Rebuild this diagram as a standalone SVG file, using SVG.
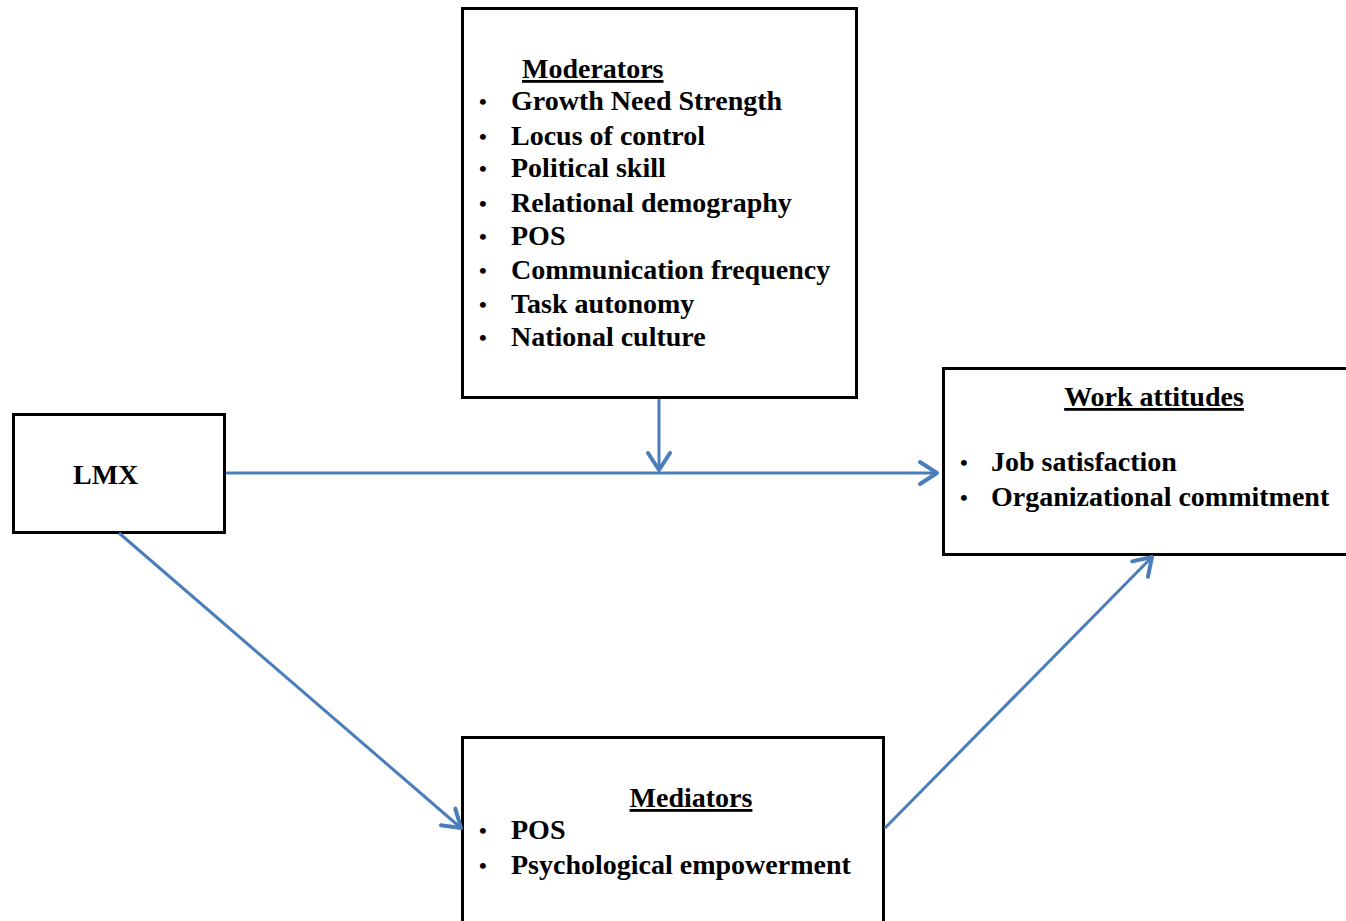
<svg xmlns="http://www.w3.org/2000/svg" width="1346" height="921" viewBox="0 0 1346 921">
<style>
.box{fill:#fff;stroke:#000;stroke-width:3}
text{font-family:"Liberation Serif","Times New Roman",serif;font-weight:bold;font-size:28px;fill:#000}
.b{font-size:22px}
.t{text-decoration:underline}
.c{fill:none;stroke:#4a7ebb;stroke-width:3;marker-end:url(#ah)}
</style>
<defs>
<marker id="ah" markerUnits="userSpaceOnUse" markerWidth="30" markerHeight="30" viewBox="-25 -15 30 30" refX="0" refY="0" orient="auto">
<path d="M-17,-11 L0,0 L-17,11" fill="none" stroke="#4a7ebb" stroke-width="4" stroke-linecap="round" stroke-linejoin="round"/>
</marker>
</defs>
<rect width="1346" height="921" fill="#fff"/>
<g id="moderators">
<rect class="box" x="462.500" y="8.500" width="394" height="389"/>
<text class="t" x="522" y="78">Moderators</text>
<g>
<text class="b" x="479" y="109">•</text><text x="511" y="110">Growth Need Strength</text>
<text class="b" x="479" y="144">•</text><text x="511" y="145">Locus of control</text>
<text class="b" x="479" y="176">•</text><text x="511" y="177">Political skill</text>
<text class="b" x="479" y="211">•</text><text x="511" y="212">Relational demography</text>
<text class="b" x="479" y="244">•</text><text x="511" y="245">POS</text>
<text class="b" x="479" y="278">•</text><text x="511" y="279">Communication frequency</text>
<text class="b" x="479" y="312">•</text><text x="511" y="313">Task autonomy</text>
<text class="b" x="479" y="345">•</text><text x="511" y="346">National culture</text>
</g>
</g>
<g id="lmx">
<rect class="box" x="13.500" y="414.500" width="211" height="118"/>
<text x="73" y="484">LMX</text>
</g>
<g id="work">
<rect class="box" x="943.500" y="368.500" width="410" height="186"/>
<text class="t" x="1154" y="406" text-anchor="middle">Work attitudes</text>
<text class="b" x="960" y="470">•</text><text x="991" y="471">Job satisfaction</text>
<text class="b" x="960" y="505">•</text><text x="991" y="506">Organizational commitment</text>
</g>
<g id="mediators">
<rect class="box" x="462.500" y="737.500" width="421" height="200"/>
<text class="t" x="691" y="807" text-anchor="middle">Mediators</text>
<text class="b" x="479" y="838">•</text><text x="511" y="839">POS</text>
<text class="b" x="479" y="873">•</text><text x="511" y="874">Psychological empowerment</text>
</g>
<g id="connectors">
<line class="c" x1="226" y1="473" x2="937" y2="473"/>
<line class="c" x1="659" y1="399" x2="659" y2="470"/>
<line class="c" x1="119" y1="533" x2="461" y2="828"/>
<line class="c" x1="885" y1="828" x2="1152" y2="557"/>
</g>
</svg>
